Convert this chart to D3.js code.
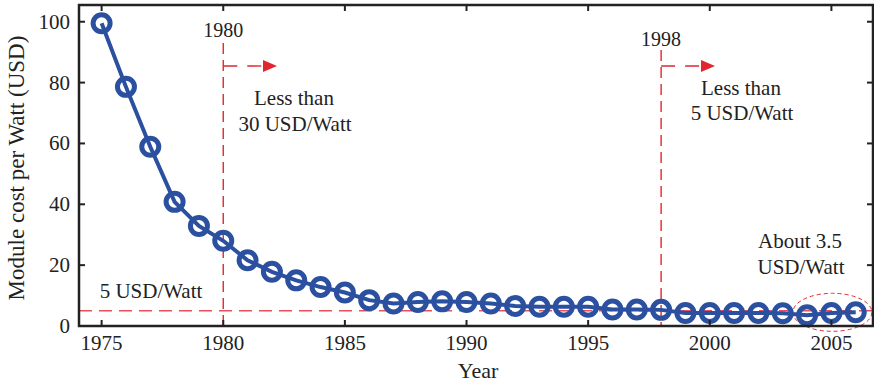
<!DOCTYPE html>
<html><head><meta charset="utf-8">
<script src="https://cdn.jsdelivr.net/npm/d3@7"></script>
<style>body{margin:0;background:#fff}svg{display:block}text{font-family:"Liberation Serif","Times New Roman",serif;fill:#222}</style>
</head><body><div id="c"></div>
<script>
const years = d3.range(1975, 2007);
const costs = [99.5, 78.6, 58.9, 40.8, 32.9, 28.0, 21.6, 17.8, 15.0, 12.8,
  11.0, 8.5, 7.4, 7.9, 8.1, 7.9, 7.4, 6.6, 6.3, 6.3,
  6.3, 5.4, 5.4, 5.3, 4.3, 4.3, 4.3, 4.3, 4.2, 3.5, 4.3, 4.5];
const xTicks = [1975, 1980, 1985, 1990, 1995, 2000, 2005];
const yTicks = [0, 20, 40, 60, 80, 100];
const markerYears = [1980, 1998];
const threshold = 5;

const W = 874, H = 384;
const m = {l: 79, r: 1, t: 5, b: 58};
const svg = d3.select("#c").append("svg").attr("width", W).attr("height", H);
const x = d3.scaleLinear().domain([1974.07, 2006.71]).range([m.l, W - m.r]);
const y = d3.scaleLinear().domain([0, 105.5]).range([H - m.b, m.t]);
const red = "#e3262e", pink = "#e9505a", blue = "#2b50a0";

// threshold line
svg.append("line").attr("x1", x.range()[0]).attr("x2", x.range()[1])
  .attr("y1", y(threshold)).attr("y2", y(threshold))
  .attr("stroke", pink).attr("stroke-width", 1.6).attr("stroke-dasharray", "13,7");

// vertical markers + arrows
const mk = [{yr: markerYears[0], top: 43, lab: 37, arrowEnd: 277}, {yr: markerYears[1], top: 50, lab: 46, arrowEnd: 715}];
mk.forEach(d => {
  const xx = x(d.yr);
  svg.append("line").attr("x1", xx).attr("x2", xx).attr("y1", d.top).attr("y2", y(0))
    .attr("stroke", red).attr("stroke-width", 1.4).attr("stroke-dasharray", "11,6");
  svg.append("text").attr("x", xx).attr("y", d.lab).attr("text-anchor", "middle")
    .attr("font-size", 20).text(d.yr);
  svg.append("line").attr("x1", xx).attr("x2", d.arrowEnd - 14).attr("y1", 66).attr("y2", 66)
    .attr("stroke", red).attr("stroke-width", 1.4).attr("stroke-dasharray", "14,10");
  svg.append("path").attr("d", `M${d.arrowEnd},66 L${d.arrowEnd - 14},60 L${d.arrowEnd - 14},72 Z`).attr("fill", red);
});

// annotations
const ann = [
  {t: "Less than", x: 294, y: 105}, {t: "30 USD/Watt", x: 295, y: 131},
  {t: "Less than", x: 741, y: 95}, {t: "5 USD/Watt", x: 742, y: 120},
  {t: "About 3.5", x: 800, y: 248}, {t: "USD/Watt", x: 801, y: 274},
  {t: "5 USD/Watt", x: 151, y: 298}
];
svg.selectAll("text.ann").data(ann).join("text").attr("class", "ann")
  .attr("x", d => d.x).attr("y", d => d.y).attr("text-anchor", "middle")
  .attr("font-size", 21).text(d => d.t);

// ellipse around recent points
svg.append("ellipse").attr("cx", (x(2004) + x(2006)) / 2 + 1).attr("cy", y(4.5))
  .attr("rx", 39.5).attr("ry", 19).attr("fill", "none")
  .attr("stroke", red).attr("stroke-width", 1).attr("stroke-dasharray", "4,3");

// data line + markers
const data = years.map((yr, i) => ({yr, v: costs[i]}));
svg.append("path").datum(data)
  .attr("d", d3.line().x(d => x(d.yr)).y(d => y(d.v)))
  .attr("fill", "none").attr("stroke", blue).attr("stroke-width", 4);
svg.selectAll("circle.pt").data(data).join("circle").attr("class", "pt")
  .attr("cx", d => x(d.yr)).attr("cy", d => y(d.v)).attr("r", 8.5)
  .attr("fill", "none").attr("stroke", blue).attr("stroke-width", 5);

// frame and ticks
const ax = svg.append("g").attr("stroke", "#222");
ax.append("rect").attr("x", x.range()[0]).attr("y", y.range()[1])
  .attr("width", x.range()[1] - x.range()[0]).attr("height", y.range()[0] - y.range()[1])
  .attr("fill", "none").attr("stroke-width", 2.5);
const tl = 6;
xTicks.forEach(t => {
  ax.append("line").attr("x1", x(t)).attr("x2", x(t)).attr("y1", y(0)).attr("y2", y(0) - tl).attr("stroke-width", 2);
  ax.append("line").attr("x1", x(t)).attr("x2", x(t)).attr("y1", y.range()[1]).attr("y2", y.range()[1] + tl).attr("stroke-width", 2);
});
yTicks.forEach(t => {
  ax.append("line").attr("x1", x.range()[0]).attr("x2", x.range()[0] + tl).attr("y1", y(t)).attr("y2", y(t)).attr("stroke-width", 2);
  ax.append("line").attr("x1", x.range()[1]).attr("x2", x.range()[1] - tl).attr("y1", y(t)).attr("y2", y(t)).attr("stroke-width", 2);
});
svg.selectAll("text.xt").data(xTicks).join("text").attr("class", "xt")
  .attr("x", d => x(d)).attr("y", y(0) + 24).attr("text-anchor", "middle").attr("font-size", 21).text(d => d);
svg.selectAll("text.yt").data(yTicks).join("text").attr("class", "yt")
  .attr("x", 70).attr("y", d => y(d) + 7).attr("text-anchor", "end").attr("font-size", 21).text(d => d);

svg.append("text").attr("x", 478).attr("y", 378).attr("text-anchor", "middle").attr("font-size", 22).text("Year");
svg.append("text").attr("transform", "translate(24,168) rotate(-90)").attr("text-anchor", "middle")
  .attr("font-size", 23).text("Module cost per Watt (USD)");
</script></body></html>
